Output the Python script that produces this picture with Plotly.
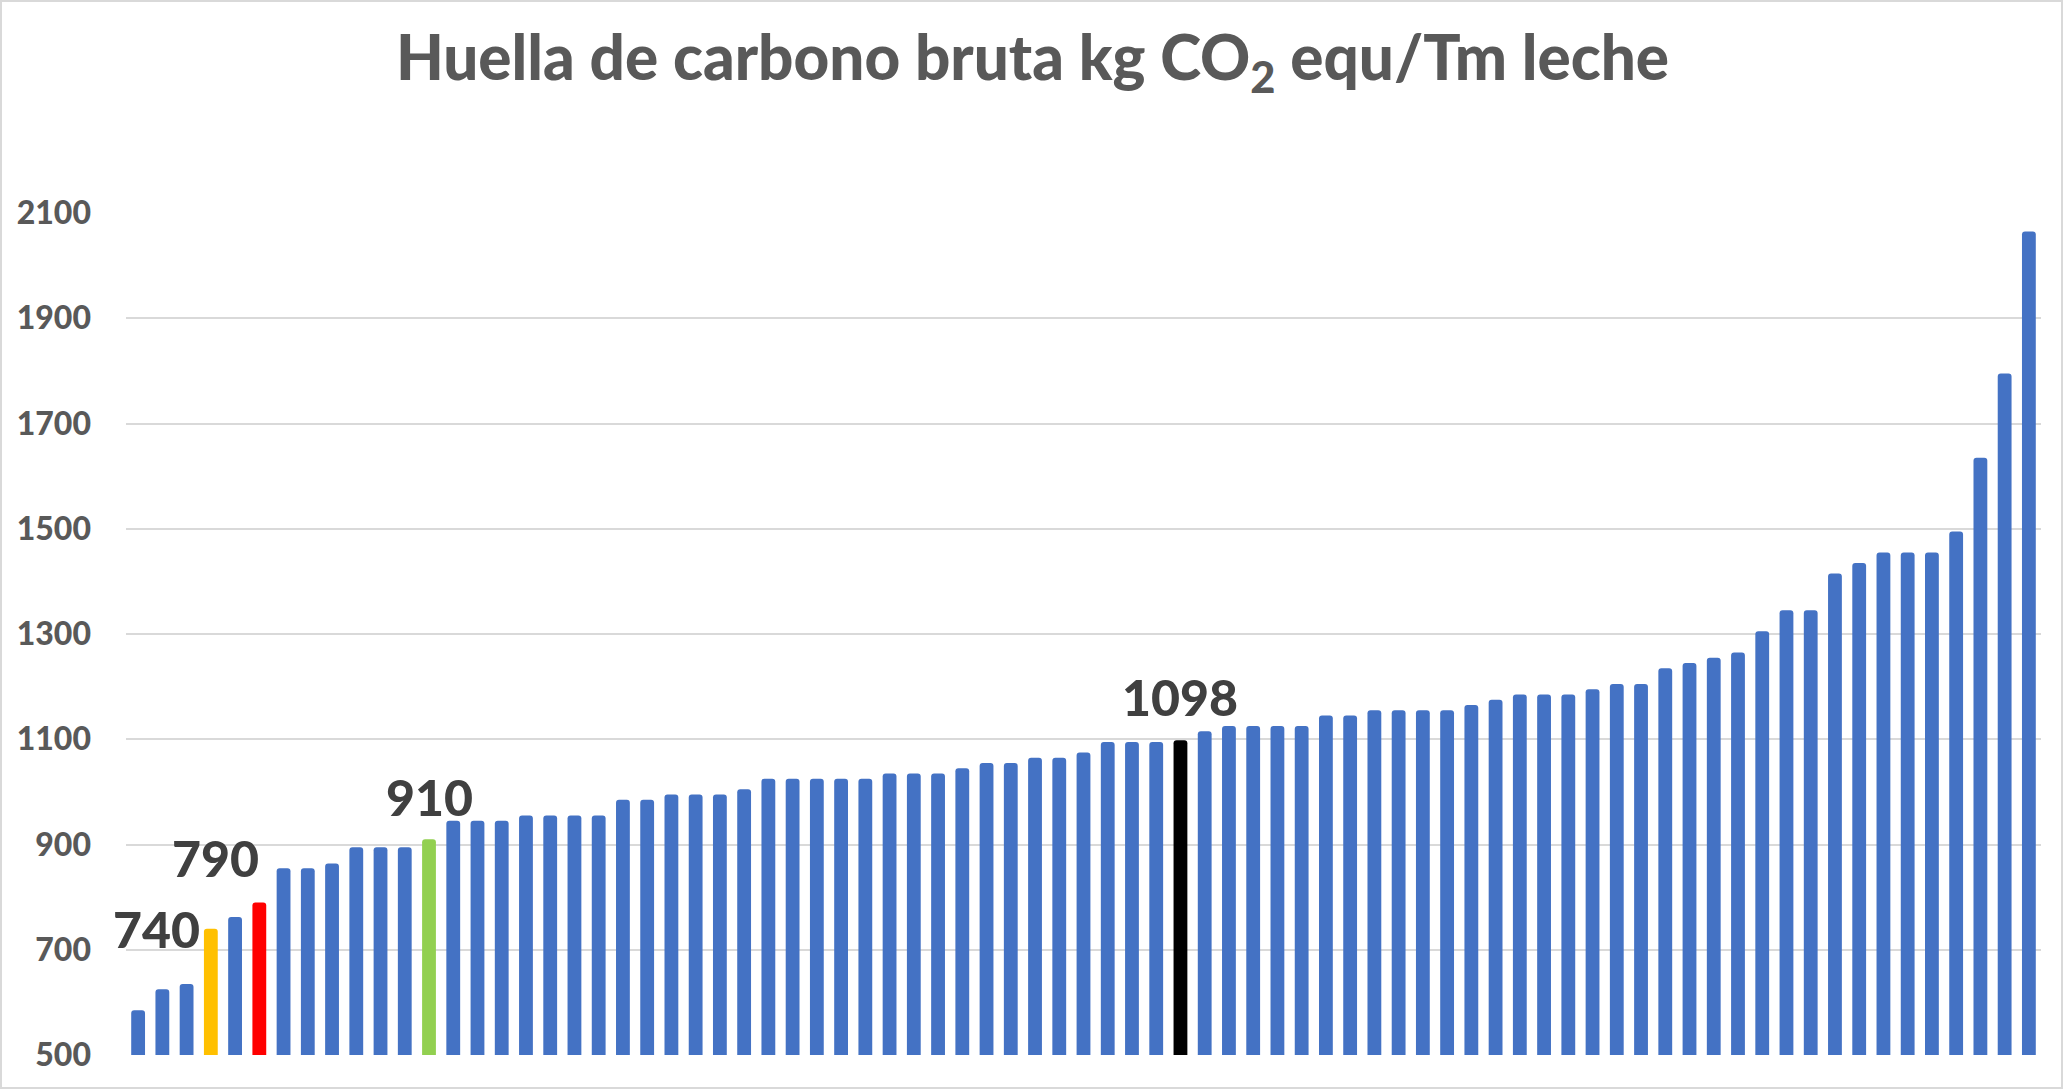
import plotly.graph_objects as go

# ---- data ----
values = [585, 625, 635, 740, 762, 790, 855, 855, 864, 895,
          895, 895, 910, 945, 945, 945, 955, 955, 955, 955,
          985, 985, 995, 995, 995, 1005, 1025, 1025, 1025, 1025,
          1025, 1035, 1035, 1035, 1045, 1055, 1055, 1065, 1065, 1075,
          1095, 1095, 1095, 1098, 1115, 1125, 1125, 1125, 1125, 1145,
          1145, 1155, 1155, 1155, 1155, 1165, 1175, 1185, 1185, 1185,
          1195, 1205, 1205, 1235, 1245, 1255, 1265, 1305, 1345, 1345,
          1415, 1435, 1455, 1455, 1455, 1495, 1635, 1795, 2065]
categories = list(range(len(values)))
highlight_colors = {3: "#FFC000", 5: "#FF0000", 12: "#92D050", 43: "#000000"}
labelled = [3, 5, 12, 43]
y_ticks = [500, 700, 900, 1100, 1300, 1500, 1700, 1900, 2100]
title_text = "Huella de carbono bruta kg CO<sub>2</sub> equ/Tm leche"

BASE = "#4472C4"
colors = [highlight_colors.get(i, BASE) for i in categories]

W, H = 2065, 1090
L, R, T, B = 126, 24, 213, 35
PW, PH = W - L - R, H - T - B

fig = go.Figure(go.Bar(
    x=categories, y=values, marker=dict(color=colors, line=dict(width=0), cornerradius=3),
    width=0.57, hoverinfo="y"))

# label offsets (pixel placement of the data labels)
label_style = {
    3: dict(xanchor="right", xshift=-9, yshift=0),
    5: dict(xanchor="right", xshift=2, yshift=44),
    12: dict(xanchor="center", xshift=0, yshift=42),
    43: dict(xanchor="center", xshift=0, yshift=43),
}
annotations = []
for i in labelled:
    st = label_style[i]
    annotations.append(dict(
        x=categories[i], y=values[i], xref="x", yref="y", text=str(values[i]),
        showarrow=False, yanchor="middle",
        font=dict(family="Lato", size=50, color="#404040", weight=900), **st))

fig.update_layout(
    width=W, height=H,
    margin=dict(l=L, r=R, t=T, b=B),
    paper_bgcolor="white", plot_bgcolor="white",
    showlegend=False,
    title=dict(text=title_text, x=0.5, xanchor="center",
               xref="container", y=1 - 58 / H, yref="container", yanchor="middle",
               font=dict(family="Lato", size=62, color="#595959", weight=900)),
    xaxis=dict(range=[-0.5, len(values) - 0.5], showticklabels=False, showgrid=False,
               zeroline=False, showline=False, fixedrange=True),
    yaxis=dict(range=[500, 2100], tickvals=y_ticks, ticktext=[str(v) for v in y_ticks],
               showgrid=True, gridcolor="#D9D9D9", gridwidth=1.5, zeroline=False,
               showline=False, ticks="", ticklabelstandoff=34,
               tickfont=dict(family="Lato", size=32, color="#595959", weight=900)),
    annotations=annotations,
    shapes=[dict(type="rect", xref="paper", yref="paper",
                 x0=(1 - L) / PW, x1=(2062 - L) / PW,
                 y0=(H - B - 1088) / PH, y1=(H - B - 1) / PH,
                 line=dict(color="#D9D9D9", width=2), fillcolor="rgba(0,0,0,0)", layer="below")],
)

fig.write_html("out.html")
